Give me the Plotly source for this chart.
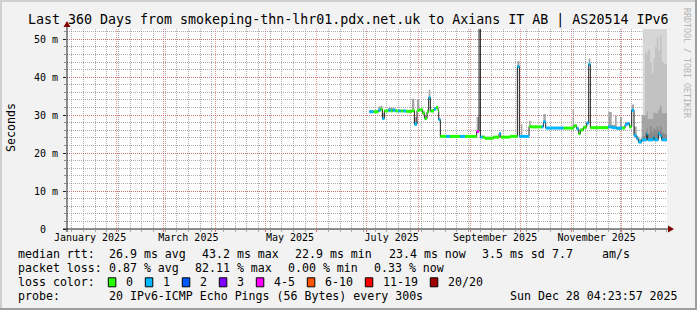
import numpy as np
import pandas as pd
import plotly.graph_objects as go

# ---------------- data ----------------
# day of year 2025 at which each step of the median starts
doy = [183.6, 186.0, 189.0, 190.4, 191.4, 192.6, 195.0, 196.4, 197.6, 199.2,
       201.0, 202.4, 204.0, 205.6, 209.2, 210.6, 212.2, 213.6, 215.6, 216.8,
       218.2, 219.2, 220.2, 222.4, 223.6, 224.8, 225.2, 226.2, 229.6, 232.0,
       238.0, 241.0, 248.0, 249.4, 250.2, 251.4, 253.0, 258.0, 261.4, 262.4,
       268.0, 272.4, 273.6, 274.6, 275.4, 279.4, 280.4, 287.0, 288.0, 289.4,
       300.0, 305.6, 306.4, 308.0, 309.2, 310.2, 312.0, 314.0, 315.2, 316.2,
       327.0, 329.0, 331.0, 332.0, 334.0, 335.2, 337.0, 338.4, 339.6, 341.0,
       342.4, 344.0, 345.0, 347.0, 350.0, 350.6, 354.0, 354.6, 357.0, 358.0,
       359.0]
median_ms = [30.9, 30.9, 31.3, 31.6, 29.1, 31.1, 31.3, 31.1, 31.3, 31.1,
             31.1, 31.1, 31.1, 31.0, 31.2, 27.6, 31.2, 31.4, 30.5, 29.1,
             30.8, 34.6, 31.1, 31.6, 32.0, 31.2, 28.8, 24.4, 24.4, 24.4,
             24.4, 24.4, 25.7, 53.5, 24.2, 24.2, 23.9, 24.2, 25.1, 24.2,
             24.4, 42.8, 24.4, 24.4, 24.4, 27.0, 26.9, 26.9, 28.2, 26.6,
             26.6, 26.6, 27.2, 26.4, 25.1, 26.1, 26.8, 27.9, 43.4, 26.7,
             26.9, 26.7, 26.7, 26.5, 26.6, 26.6, 27.5, 27.8, 26.9, 31.3,
             24.6, 23.8, 22.9, 23.5, 25.0, 23.5, 24.2, 23.5, 25.1, 24.6,
             23.5]
loss_class = [1, 0, 1, 0, 1, 0, 1, 0, 1, 0,
              1, 0, 1, 0, 0, 1, 0, 0, 0, 0,
              0, 1, 0, 1, 0, 0, 1, 0, 1, 0,
              1, 0, 4, 6, 1, 0, 0, 0, 1, 0,
              0, 1, 1, 1, 1, 0, 0, 1, 1, 1,
              0, 0, 0, 1, 0, 0, 0, 1, 1, 0,
              1, 1, 1, 1, 1, 0, 1, 1, 0, 1,
              1, 1, 1, 1, 1, 1, 1, 1, 1, 1,
              1]
smoke_max = [31.2, 31.2, 32.3, 32.5, 30.5, 31.4, 32.0, 32.0, 31.8, 31.4,
             31.4, 31.4, 31.4, 31.3, 34.3, 29.5, 34.1, 31.7, 31.0, 29.8,
             31.5, 36.7, 31.5, 32.0, 32.4, 31.5, 29.3, 24.7, 24.7, 24.7,
             24.7, 24.7, 29.5, 53.5, 24.6, 24.6, 24.3, 24.5, 25.5, 24.5,
             24.7, 44.3, 24.7, 27.6, 24.7, 28.5, 27.2, 27.2, 30.3, 26.9,
             26.9, 31.4, 27.5, 26.8, 25.5, 26.5, 27.1, 28.3, 44.9, 27.0,
             30.8, 27.5, 29.9, 27.0, 29.5, 27.0, 28.2, 28.2, 27.4, 32.8,
             27.0, 24.5, 23.8, 30.0, 31.0, 29.0, 31.0, 30.5, 31.5, 32.5,
             30.5]
end_doy = 362.18

# the heavy smoke of the last two weeks (outer, upper and core layers)
tail_doy = [347.6, 349.0, 350.0, 350.6, 352.0, 353.0, 354.0, 355.0, 356.0, 357.0,
            358.0, 359.0, 360.4]
tail_top = [53.5, 53.5, 53.5, 53.5, 53.5, 53.5, 53.5, 53.5, 53.5, 53.5,
            53.5, 53.5, 53.5]
tail_upper = [28.0, 46.6, 46.0, 47.2, 44.0, 41.0, 45.0, 48.0, 50.5, 47.0,
              51.0, 44.0, 43.5]
tail_core = [24.5, 25.5, 26.5, 25.0, 27.0, 25.5, 26.5, 26.0, 27.0, 26.0,
             27.0, 25.5, 25.0]

month_ticks = ['2025-01-16', '2025-03-16', '2025-05-16', '2025-07-16', '2025-09-16', '2025-11-16']
month_labels = ['January 2025', 'March 2025', 'May 2025', 'July 2025', 'September 2025', 'November 2025']
y_ticks = [0, 10, 20, 30, 40, 50]
y_labels = ['0\u00a0\u00a0', '10 m', '20 m', '30 m', '40 m', '50 m']

loss_colors = ['#26ff00', '#00b8ff', '#0059ff', '#7e00ff', '#ff00ff', '#ff5500', '#ff0000', '#a10000']
loss_labels = ['0', '1', '2', '3', '4-5', '6-10', '11-19', '20/20']

stats_rtt = ['26.9 ms avg', '43.2 ms max', '22.9 ms min', '23.4 ms now', '3.5 ms sd', '7.7', 'am/s']
stats_loss = ['0.87 % avg', '82.11 % max', '0.00 % min', '0.33 % now']

# ---------------------------------------------------------------
base = pd.Timestamp('2025-01-01')


def to_date(d):
    return base + pd.to_timedelta(np.asarray(d, dtype=float) - 1, unit='D')


dates = to_date(doy + [end_doy])
med = np.array(median_ms + [median_ms[-1]])
smax = np.array(smoke_max + [smoke_max[-1]])
lo = med - 0.25

t_dates = to_date(tail_doy + [end_doy])
t_lo = np.interp(tail_doy + [end_doy], doy + [end_doy], med, ) - 0.3
t_top = np.array(tail_top + [tail_top[-1]])
t_up = np.array(tail_upper + [tail_upper[-1]])
t_core = np.array(tail_core + [tail_core[-1]])

x_start = pd.Timestamp('2025-01-02 04:23:57')
x_end = pd.Timestamp('2025-12-28 04:23:57')

MONO = 'DejaVu Sans Mono'
fig = go.Figure()


def band(x, ylo, yhi, color):
    fig.add_trace(go.Scatter(x=x, y=ylo, mode='lines', line=dict(width=0, shape='hv'),
                             showlegend=False, hoverinfo='skip'))
    fig.add_trace(go.Scatter(x=x, y=yhi, mode='lines', line=dict(width=0, shape='hv'),
                             fill='tonexty', fillcolor=color, showlegend=False, hoverinfo='skip'))


band(t_dates, t_lo, t_top, '#d6d6d6')
band(t_dates, t_lo, t_up, '#c2c2c2')
band(dates, lo, smax, '#a4a4a4')
band(t_dates, t_lo, t_core, '#8a8a8a')

# median line
fig.add_trace(go.Scatter(x=dates, y=med, mode='lines', line=dict(width=1, color='#202020', shape='hv'),
                         showlegend=False, hoverinfo='skip'))

# loss coloured bands
for k, col in enumerate(loss_colors):
    xs, ys = [], []
    for i in range(len(doy)):
        if loss_class[i] == k:
            xs += [dates[i], dates[i + 1], None]
            ys += [med[i], med[i], None]
    if xs:
        fig.add_trace(go.Scatter(x=xs, y=ys, mode='lines', line=dict(width=3, color=col),
                                 showlegend=False, hoverinfo='skip'))

# invisible trace on grid axis
fig.add_trace(go.Scatter(x=[x_start, x_end], y=[None, None], xaxis='x2', showlegend=False, hoverinfo='skip'))

L, R, T, B = 67, 30, 29, 81
W, H = 697, 310
PW, PH = W - L - R, H - T - B


def PX(x):
    return (x - L) / PW


def PY(y):
    return (H - B - y) / PH


grid_dash = '1px,1px'
fig.update_layout(
    width=W, height=H,
    margin=dict(l=L, r=R, t=T, b=B),
    paper_bgcolor='#f2f2f2', plot_bgcolor='#ffffff',
    xaxis=dict(range=[x_start, x_end], type='date', tickmode='array', tickvals=month_ticks,
               ticktext=month_labels, showgrid=False, ticks='', zeroline=False, automargin=False,
               tickfont=dict(family=MONO, size=10, color='#000000'), ticklabelstandoff=1),
    xaxis2=dict(range=[x_start, x_end], type='date', overlaying='x', showticklabels=False,
                dtick='M1', tick0='2025-01-01', showgrid=True, gridcolor='rgba(222,79,79,0.6)',
                griddash=grid_dash, gridwidth=1, ticks='outside', ticklen=2, tickcolor='rgba(222,79,79,0.8)',
                minor=dict(dtick=7 * 86400000, tick0='2025-01-05', showgrid=True,
                           gridcolor='rgba(143,143,143,0.75)', griddash=grid_dash, gridwidth=1,
                           ticks='outside', ticklen=2, tickcolor='rgba(143,143,143,0.75)'),
                zeroline=False, side='bottom', anchor='y', layer='below traces', automargin=False),
    yaxis=dict(range=[0, 52.7], tickmode='array', tickvals=y_ticks, ticktext=y_labels,
               showgrid=True, gridcolor='rgba(222,79,79,0.6)', griddash=grid_dash, automargin=False,
               ticks='outside', ticklen=3, tickcolor='#212121', zeroline=False,
               minor=dict(dtick=2, tick0=0, showgrid=True, gridcolor='rgba(143,143,143,0.75)',
                          griddash=grid_dash, ticks='outside', ticklen=2, tickcolor='#8f8f8f'),
               tickfont=dict(family=MONO, size=10, color='#000000'), ticklabelstandoff=3),
    showlegend=False,
)

shapes = []
# border shading
shapes.append(dict(type='rect', xref='paper', yref='paper', x0=PX(0), x1=PX(W), y0=PY(0), y1=PY(2),
                   fillcolor='#cfcfcf', line=dict(width=0), layer='above'))
shapes.append(dict(type='rect', xref='paper', yref='paper', x0=PX(0), x1=PX(2), y0=PY(0), y1=PY(H),
                   fillcolor='#cfcfcf', line=dict(width=0), layer='above'))
shapes.append(dict(type='rect', xref='paper', yref='paper', x0=PX(0), x1=PX(W), y0=PY(H - 2), y1=PY(H),
                   fillcolor='#9e9e9e', line=dict(width=0), layer='above'))
shapes.append(dict(type='rect', xref='paper', yref='paper', x0=PX(W - 2), x1=PX(W), y0=PY(0), y1=PY(H),
                   fillcolor='#9e9e9e', line=dict(width=0), layer='above'))
# axes
shapes.append(dict(type='line', xref='paper', yref='paper', x0=PX(67), x1=PX(67), y0=PY(232), y1=PY(25),
                   line=dict(color='#212121', width=1), layer='above'))
shapes.append(dict(type='line', xref='paper', yref='paper', x0=PX(63), x1=PX(670), y0=PY(229), y1=PY(229),
                   line=dict(color='#212121', width=1), layer='above'))
# arrows
shapes.append(dict(type='path', xref='paper', yref='paper',
                   path=f'M {PX(63.5)} {PY(27)} L {PX(70.5)} {PY(27)} L {PX(67)} {PY(21)} Z',
                   fillcolor='#800000', line=dict(width=0), layer='above'))
shapes.append(dict(type='path', xref='paper', yref='paper',
                   path=f'M {PX(668)} {PY(225.5)} L {PX(668)} {PY(232.5)} L {PX(674)} {PY(229)} Z',
                   fillcolor='#800000', line=dict(width=0), layer='above'))

ann = []
ann.append(dict(text='Last 360 Days from smokeping-thn-lhr01.pdx.net.uk to Axians IT AB | AS20514 IPv6',
                x=PX(347.5), y=PY(20), xref='paper', yref='paper', showarrow=False,
                xanchor='center', yanchor='middle', font=dict(family=MONO, size=13.3, color='#000000')))
ann.append(dict(text='Seconds', x=PX(11), y=PY(128), xref='paper', yref='paper', showarrow=False,
                textangle=-90, xanchor='center', yanchor='middle', font=dict(family=MONO, size=11.6, color='#000000')))
ann.append(dict(text='RRDTOOL / TOBI OETIKER', x=PX(687), y=PY(6), xref='paper', yref='paper', showarrow=False,
                textangle=90, xanchor='center', yanchor='top', font=dict(family=MONO, size=8.3, color='#b4b4b4')))

FS = 11.6


def txt(s, x, y, anchor='left'):
    ann.append(dict(text=s, x=PX(x), y=PY(y), xref='paper', yref='paper', showarrow=False,
                    xanchor=anchor, yanchor='middle', font=dict(family=MONO, size=FS, color='#000000')))


y1, y2, y3, y4 = 254.3, 268.3, 282.3, 296.0
txt('median rtt:', 16, y1)
for s, x in zip(stats_rtt, [107.3, 200, 293.3, 386.7, 480, 550, 600]):
    txt(s, x, y1)
txt('packet loss:', 16, y2)
for s, x in zip(stats_loss, [107.3, 193.3, 286, 372.3]):
    txt(s, x, y2)
txt('loss color:', 16, y3)
bx = 108.3
for col, lab in zip(loss_colors, loss_labels):
    shapes.append(dict(type='rect', xref='paper', yref='paper', x0=PX(bx), x1=PX(bx + 7.5),
                       y0=PY(y3 + 4.5), y1=PY(y3 - 4.5), fillcolor=col,
                       line=dict(color='#000000', width=1), layer='above'))
    txt(lab, bx + 15.7, y3)
    bx += 15.7 + 7.0 * len(lab) + 14.3
txt('probe:', 16, y4)
txt('20 IPv6-ICMP Echo Pings (56 Bytes) every 300s', 107.3, y4)
txt('Sun Dec 28 04:23:57 2025', 680, y4, anchor='right')

fig.update_layout(shapes=shapes, annotations=ann)
fig.write_html('out.html')
